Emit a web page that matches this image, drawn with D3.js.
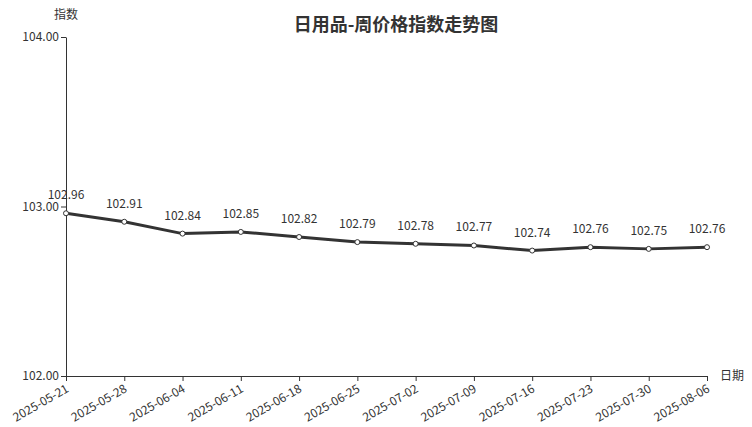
<!DOCTYPE html>
<html><head><meta charset="utf-8">
<script src="https://cdn.jsdelivr.net/npm/d3@7"></script>
<style>
html,body{margin:0;padding:0;background:#fff;}
svg{display:block;font-family:"Noto Sans CJK SC","Noto Sans",sans-serif;}
</style></head>
<body>
<svg id="c" width="752" height="427"></svg>
<script>
const dates = ["2025-05-21","2025-05-28","2025-06-04","2025-06-11","2025-06-18","2025-06-25","2025-07-02","2025-07-09","2025-07-16","2025-07-23","2025-07-30","2025-08-06"];
const values = [102.96,102.91,102.84,102.85,102.82,102.79,102.78,102.77,102.74,102.76,102.75,102.76];
const yTicks = [102,103,104];
const title = "日用品-周价格指数走势图";
const yName = "指数";
const xName = "日期";

(function(){
const svg = d3.select("#c");
const mLeft = 66, mRight = 707, mTop = 37, mBottom = 376;
const x = d3.scalePoint().domain(dates).range([mLeft, mRight]);
const y = d3.scaleLinear().domain([102,104]).range([mBottom, mTop]);
const textColor = "#333";

svg.append("text").attr("x", 396).attr("y", 31).attr("text-anchor","middle")
  .attr("font-size", 18).attr("font-weight","bold").attr("fill", textColor).text(title);

const yAxis = svg.append("g").attr("transform", `translate(${mLeft},0)`)
  .call(d3.axisLeft(y).tickValues(yTicks).tickFormat(d3.format(".2f")).tickSize(5).tickSizeOuter(0));
const xAxis = svg.append("g").attr("transform", `translate(0,${mBottom})`)
  .call(d3.axisBottom(x).tickSize(5).tickSizeOuter(0));
[yAxis, xAxis].forEach(g => {
  g.selectAll("path,line").attr("stroke", textColor).attr("stroke-width", 1);
  g.selectAll("text").attr("fill", textColor).attr("font-size", 12).attr("font-family", '"Noto Sans CJK SC","Noto Sans",sans-serif');
});
yAxis.selectAll("text").attr("x", -7);
xAxis.selectAll("text")
  .attr("text-anchor", "end")
  .attr("transform", "rotate(-30)")
  .attr("x", -5).attr("y", 6).attr("dy", "0.71em");

svg.append("text").attr("x", mLeft).attr("y", 19).attr("text-anchor","middle")
  .attr("font-size", 12).attr("fill", textColor).text(yName);
svg.append("text").attr("x", 720).attr("y", mBottom).attr("dy","0.35em")
  .attr("font-size", 12).attr("fill", textColor).text(xName);

const data = dates.map((d,i) => ({d, v: values[i]}));
svg.append("path").datum(data)
  .attr("fill","none").attr("stroke", textColor).attr("stroke-width", 3)
  .attr("stroke-linejoin","round")
  .attr("d", d3.line().x(p => x(p.d)).y(p => y(p.v)));
svg.append("g").selectAll("circle").data(data).join("circle")
  .attr("cx", p => x(p.d)).attr("cy", p => y(p.v)).attr("r", 2.5)
  .attr("fill", "#fff").attr("stroke", textColor).attr("stroke-width", 1);
svg.append("g").selectAll("text").data(data).join("text")
  .attr("x", p => x(p.d)).attr("y", p => y(p.v) - 14)
  .attr("text-anchor","middle").attr("font-size", 12).attr("fill", textColor)
  .text(p => p.v.toFixed(2));
})();
</script>
</body></html>
